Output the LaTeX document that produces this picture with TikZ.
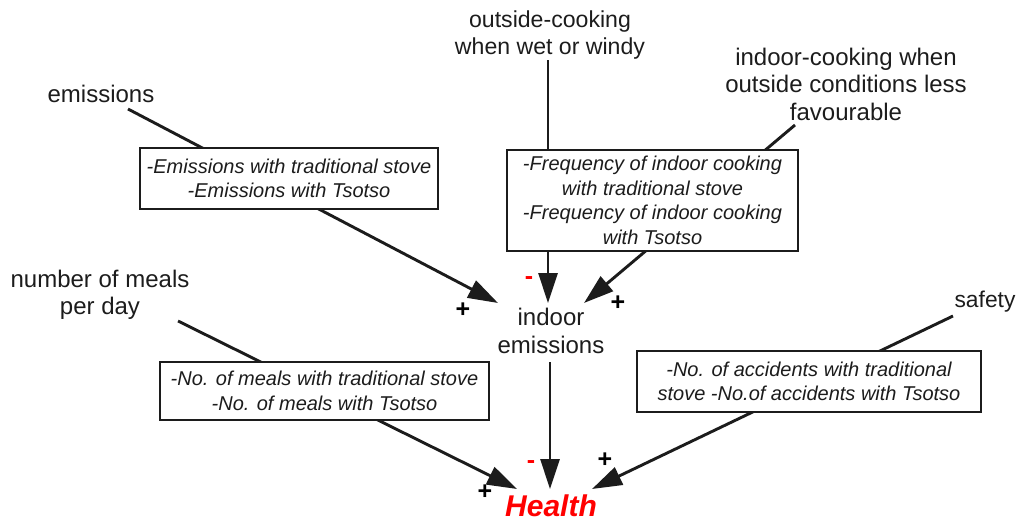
\documentclass[tikz,border=0pt]{standalone}
\usepackage{fontspec}
\setmainfont{Liberation Sans}
\usetikzlibrary{arrows.meta}
\definecolor{ink}{HTML}{1C1C1C}
\begin{document}
\begin{tikzpicture}[x=1pt,y=-1pt,
  every node/.style={text=ink},
  factor/.style={align=center,inner sep=0pt,font=\fontsize{24}{27.5}\selectfont},
  measure/.style={draw=ink,line width=1.4pt,fill=white,align=center,inner sep=0pt,
    font=\fontsize{20}{24.5}\selectfont\itshape},
  link/.style={draw=ink,line width=2.9pt},
  causal/.style={link,-{Triangle[length=30pt,width=19pt]}},
  plussign/.style={font=\fontsize{25}{25}\selectfont\bfseries,text=black,inner sep=0pt},
  minussign/.style={font=\fontsize{25}{25}\selectfont\bfseries,text=red,inner sep=0pt}]
\useasboundingbox (0,0) rectangle (1018,522);

% factors
\node[factor] (emis) at (101,94) {emissions};
\node[factor,font=\fontsize{23.1}{26.5}\selectfont] (outc) at (550,35) {outside-cooking\\when wet or windy};
\node[factor] (inc) at (846,84) {indoor-cooking when\\outside conditions less\\favourable};
\node[factor] (meals) at (100,295) {number of meals\\per day};
\node[factor,font=\fontsize{22.8}{26}\selectfont] (safe) at (985,302) {safety};
\node[factor] (indoor) at (551,331) {indoor\\emissions};
\node[font=\fontsize{30}{30}\selectfont\bfseries\itshape,text=red,inner sep=0pt,anchor=base]
  (health) at (551,516.5) {Health};

% connector end points
\coordinate (emisS) at (128,109);
\coordinate (outcS) at (548,60);
\coordinate (incS) at (795,125);
\coordinate (mealsS) at (178,321);
\coordinate (safeS) at (953,316);
\coordinate (indoorS) at (550,362);
\coordinate (indoorW) at (498,303);
\coordinate (indoorN) at (548,303);
\coordinate (indoorE) at (584,303);
\coordinate (healthW) at (517,489);
\coordinate (healthN) at (550,489);
\coordinate (healthE) at (592,489);

% causal links
\draw[causal] (emisS) -- (indoorW);
\draw[causal] (outcS) -- (indoorN);
\draw[causal] (incS) -- (indoorE);
\draw[causal] (mealsS) -- (healthW);
\draw[causal] (indoorS) -- (healthN);
\draw[causal] (safeS) -- (healthE);

% measures placed over the links
\node[measure,minimum width=298pt,minimum height=61pt] (m1) at (289,178.5)
  {-Emissions with traditional stove\\-Emissions with Tsotso};
\node[measure,minimum width=291pt,minimum height=101pt] (m2) at (652.5,200.5)
  {-Frequency of indoor cooking\\with traditional stove\\-Frequency of indoor cooking\\with Tsotso};
\node[measure,minimum width=329pt,minimum height=58pt] (m3) at (324.5,391)
  {-No. of meals with traditional stove\\-No. of meals with Tsotso};
\node[measure,minimum width=344pt,minimum height=61pt] (m4) at (809,381.5)
  {-No. of accidents with traditional\\stove -No.of accidents with Tsotso};

% polarities
\node[plussign] (p1) at (463,310) {+};
\node[minussign] (n1) at (529,281) {-};
\node[plussign] (p2) at (618,303) {+};
\node[plussign] (p3) at (485,492) {+};
\node[minussign] (n2) at (531,465) {-};
\node[plussign] (p4) at (605,460) {+};
\end{tikzpicture}
\end{document}
